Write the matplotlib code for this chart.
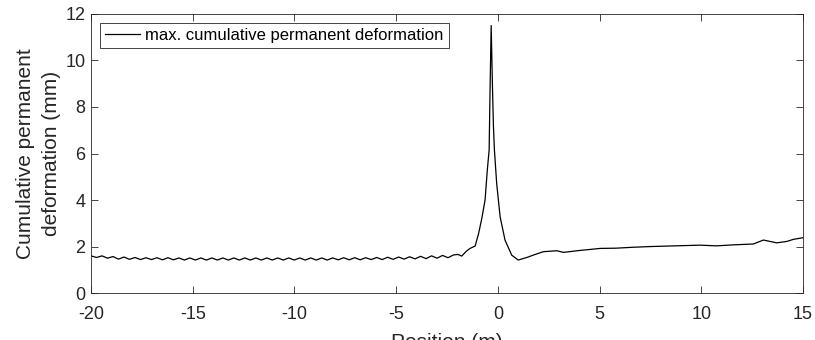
import matplotlib
matplotlib.use("Agg")
import matplotlib.pyplot as plt

plt.rcParams["font.family"] = ["Liberation Sans", "DejaVu Sans"]
plt.rcParams["axes.unicode_minus"] = False

# wavy part before the peak (crests and troughs)
x_wave = [-20.0, -19.73, -19.46, -19.19, -18.92, -18.65, -18.38, -18.11, -17.84, -17.57,
          -17.30, -17.03, -16.76, -16.49, -16.22, -15.95, -15.68, -15.41, -15.14, -14.87,
          -14.60, -14.33, -14.06, -13.79, -13.52, -13.25, -12.98, -12.71, -12.44, -12.17,
          -11.90, -11.63, -11.36, -11.09, -10.82, -10.55, -10.28, -10.01, -9.74, -9.47,
          -9.20, -8.93, -8.66, -8.39, -8.12, -7.85, -7.58, -7.31, -7.04, -6.77,
          -6.50, -6.23, -5.96, -5.69, -5.42, -5.15, -4.88, -4.61, -4.34, -4.07,
          -3.80, -3.53, -3.26, -2.99, -2.72, -2.45, -2.18, -1.95]
y_wave = [1.60, 1.53, 1.60, 1.50, 1.57, 1.46, 1.55, 1.45, 1.53, 1.44,
          1.52, 1.44, 1.52, 1.43, 1.52, 1.43, 1.51, 1.42, 1.51, 1.42,
          1.51, 1.42, 1.51, 1.42, 1.51, 1.42, 1.51, 1.42, 1.51, 1.42,
          1.51, 1.42, 1.51, 1.42, 1.51, 1.42, 1.51, 1.42, 1.51, 1.42,
          1.51, 1.42, 1.51, 1.42, 1.51, 1.43, 1.52, 1.43, 1.52, 1.43,
          1.52, 1.44, 1.53, 1.44, 1.54, 1.45, 1.55, 1.46, 1.56, 1.47,
          1.58, 1.48, 1.60, 1.50, 1.62, 1.52, 1.64, 1.66]

# peak and the part after it
x_rest = [-1.78, -1.55, -1.37, -1.12, -0.95, -0.79, -0.63, -0.52, -0.43, -0.38, -0.33,
          -0.27, -0.22, -0.17, -0.06, 0.11, 0.35, 0.68, 1.0, 1.42, 1.83, 2.24, 2.9,
          3.22, 4.0, 5.03, 5.8, 6.65, 7.5, 8.3, 9.1, 9.94, 10.76, 11.5, 12.56, 13.05,
          13.71, 14.2, 14.53, 15.0]
y_rest = [1.59, 1.80, 1.92, 2.02, 2.55, 3.21, 4.0, 5.29, 6.15, 9.0, 11.5,
          9.0, 7.2, 6.15, 4.72, 3.28, 2.28, 1.63, 1.42, 1.53, 1.66, 1.78, 1.82,
          1.75, 1.83, 1.92, 1.93, 1.97, 2.0, 2.02, 2.04, 2.06, 2.03, 2.07, 2.11, 2.28,
          2.16, 2.22, 2.31, 2.38]

position = x_wave + x_rest
deformation = y_wave + y_rest

fig = plt.figure(figsize=(8.15, 3.4), dpi=100)
ax = fig.add_axes([0.1117, 0.138, 0.8736, 0.821])
ax.plot(position, deformation, color="black", linewidth=0.9,
        label="max. cumulative permanent deformation")

ax.set_xlim(-20, 15)
ax.set_ylim(0, 12)
ax.set_xticks([-20, -15, -10, -5, 0, 5, 10, 15])
ax.set_yticks([0, 2, 4, 6, 8, 10, 12])
ax.tick_params(direction="in", top=True, right=True, labelsize=13,
               colors="#262626", length=5, width=0.6)
ax.tick_params(axis="x", pad=9.5)
ax.tick_params(axis="y", pad=4)
for s in ax.spines.values():
    s.set_color("#262626")
    s.set_linewidth(0.6)

ax.set_ylabel("Cumulative permanent\ndeformation (mm)", fontsize=15,
              color="#262626", labelpad=3, linespacing=1.45)
ax.set_xlabel("Position (m)", fontsize=15, color="#262626", labelpad=7)

leg = ax.legend(loc="upper left", fontsize=12, fancybox=False, framealpha=1,
                edgecolor="#262626", handlelength=2.1, handletextpad=0.3,
                borderaxespad=0.55, borderpad=0.3)
leg.get_frame().set_linewidth(0.6)

fig.savefig("out.png", dpi=100)
